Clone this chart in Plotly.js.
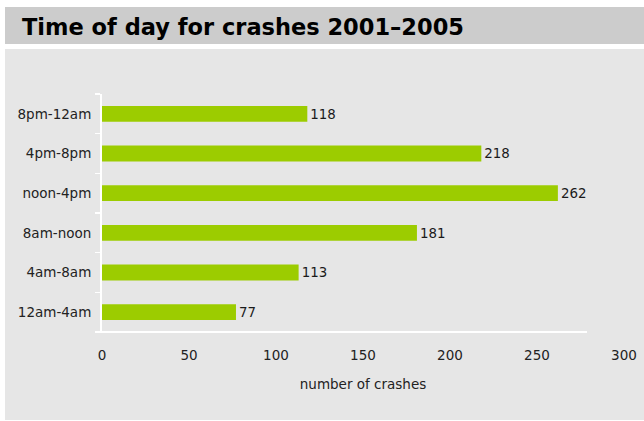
<!DOCTYPE html>
<html>
<head>
<meta charset="utf-8">
<script src="https://cdn.plot.ly/plotly-3.0.1.min.js"></script>
<style>html,body{margin:0;padding:0;background:#fff;}#chart{width:644px;height:421px;}</style>
</head>
<body>
<div id="chart"></div>
<script>
var categories = ["12am-4am", "4am-8am", "8am-noon", "noon-4pm", "4pm-8pm", "8pm-12am"];
var crashes = [77, 113, 181, 262, 218, 118];
var xTicks = [0, 50, 100, 150, 200, 250, 300];

var FONT = "DejaVu Sans, Verdana, sans-serif";

var trace = {
  type: "bar",
  orientation: "h",
  y: categories,
  x: crashes,
  text: crashes.map(String),
  textposition: "outside",
  cliponaxis: false,
  textfont: {family: FONT, size: 13.5, color: "#1a1a1a"},
  marker: {color: "#9ccc00"},
  hoverinfo: "none"
};

var layout = {
  width: 644, height: 421,
  margin: {l: 102, r: 20, t: 94, b: 89, pad: 0},
  paper_bgcolor: "#ffffff",
  plot_bgcolor: "rgba(0,0,0,0)",
  bargap: 0.6,
  showlegend: false,
  font: {family: FONT, size: 13.5, color: "#222"},
  title: {
    text: "<b>Time of day for crashes 2001–2005</b>",
    font: {family: FONT, size: 22.5, color: "#000"},
    xref: "container", yref: "container",
    x: 22/644, xanchor: "left",
    y: 1 - 27/421, yanchor: "middle"
  },
  xaxis: {
    range: [0, 300],
    tickvals: xTicks,
    ticktext: xTicks.map(String),
    showgrid: false, zeroline: false, showline: false,
    ticks: "", ticklabelstandoff: 13,
    tickfont: {family: FONT, size: 13.5, color: "#222"},
    title: {text: "number of crashes", font: {family: FONT, size: 13.5, color: "#222"}, standoff: 18},
    fixedrange: true
  },
  yaxis: {
    type: "category",
    categoryorder: "array", categoryarray: categories,
    range: [-0.5, 5.5],
    showgrid: false, zeroline: false,
    showline: true, linecolor: "#ffffff", linewidth: 2,
    ticks: "outside", tickson: "boundaries", ticklen: 5, tickwidth: 1.5, tickcolor: "#ffffff",
    ticklabelstandoff: 6,
    tickfont: {family: FONT, size: 13.5, color: "#222"},
    fixedrange: true
  },
  shapes: [
    {type: "rect", xref: "paper", yref: "paper", layer: "below",
     x0: -97/522, x1: 542/522, y0: (332-420)/238, y1: (332-49)/238,
     fillcolor: "#e6e6e6", line: {width: 0}},
    {type: "rect", xref: "paper", yref: "paper", layer: "below",
     x0: -97/522, x1: 542/522, y0: (332-44)/238, y1: (332-7)/238,
     fillcolor: "#cccccc", line: {width: 0}},
    {type: "line", xref: "paper", yref: "paper", layer: "above",
     x0: -6/522, x1: 485/522, y0: 0, y1: 0,
     line: {color: "#ffffff", width: 2}}
  ]
};

Plotly.newPlot("chart", [trace], layout, {displayModeBar: false, staticPlot: true});
</script>
</body>
</html>
